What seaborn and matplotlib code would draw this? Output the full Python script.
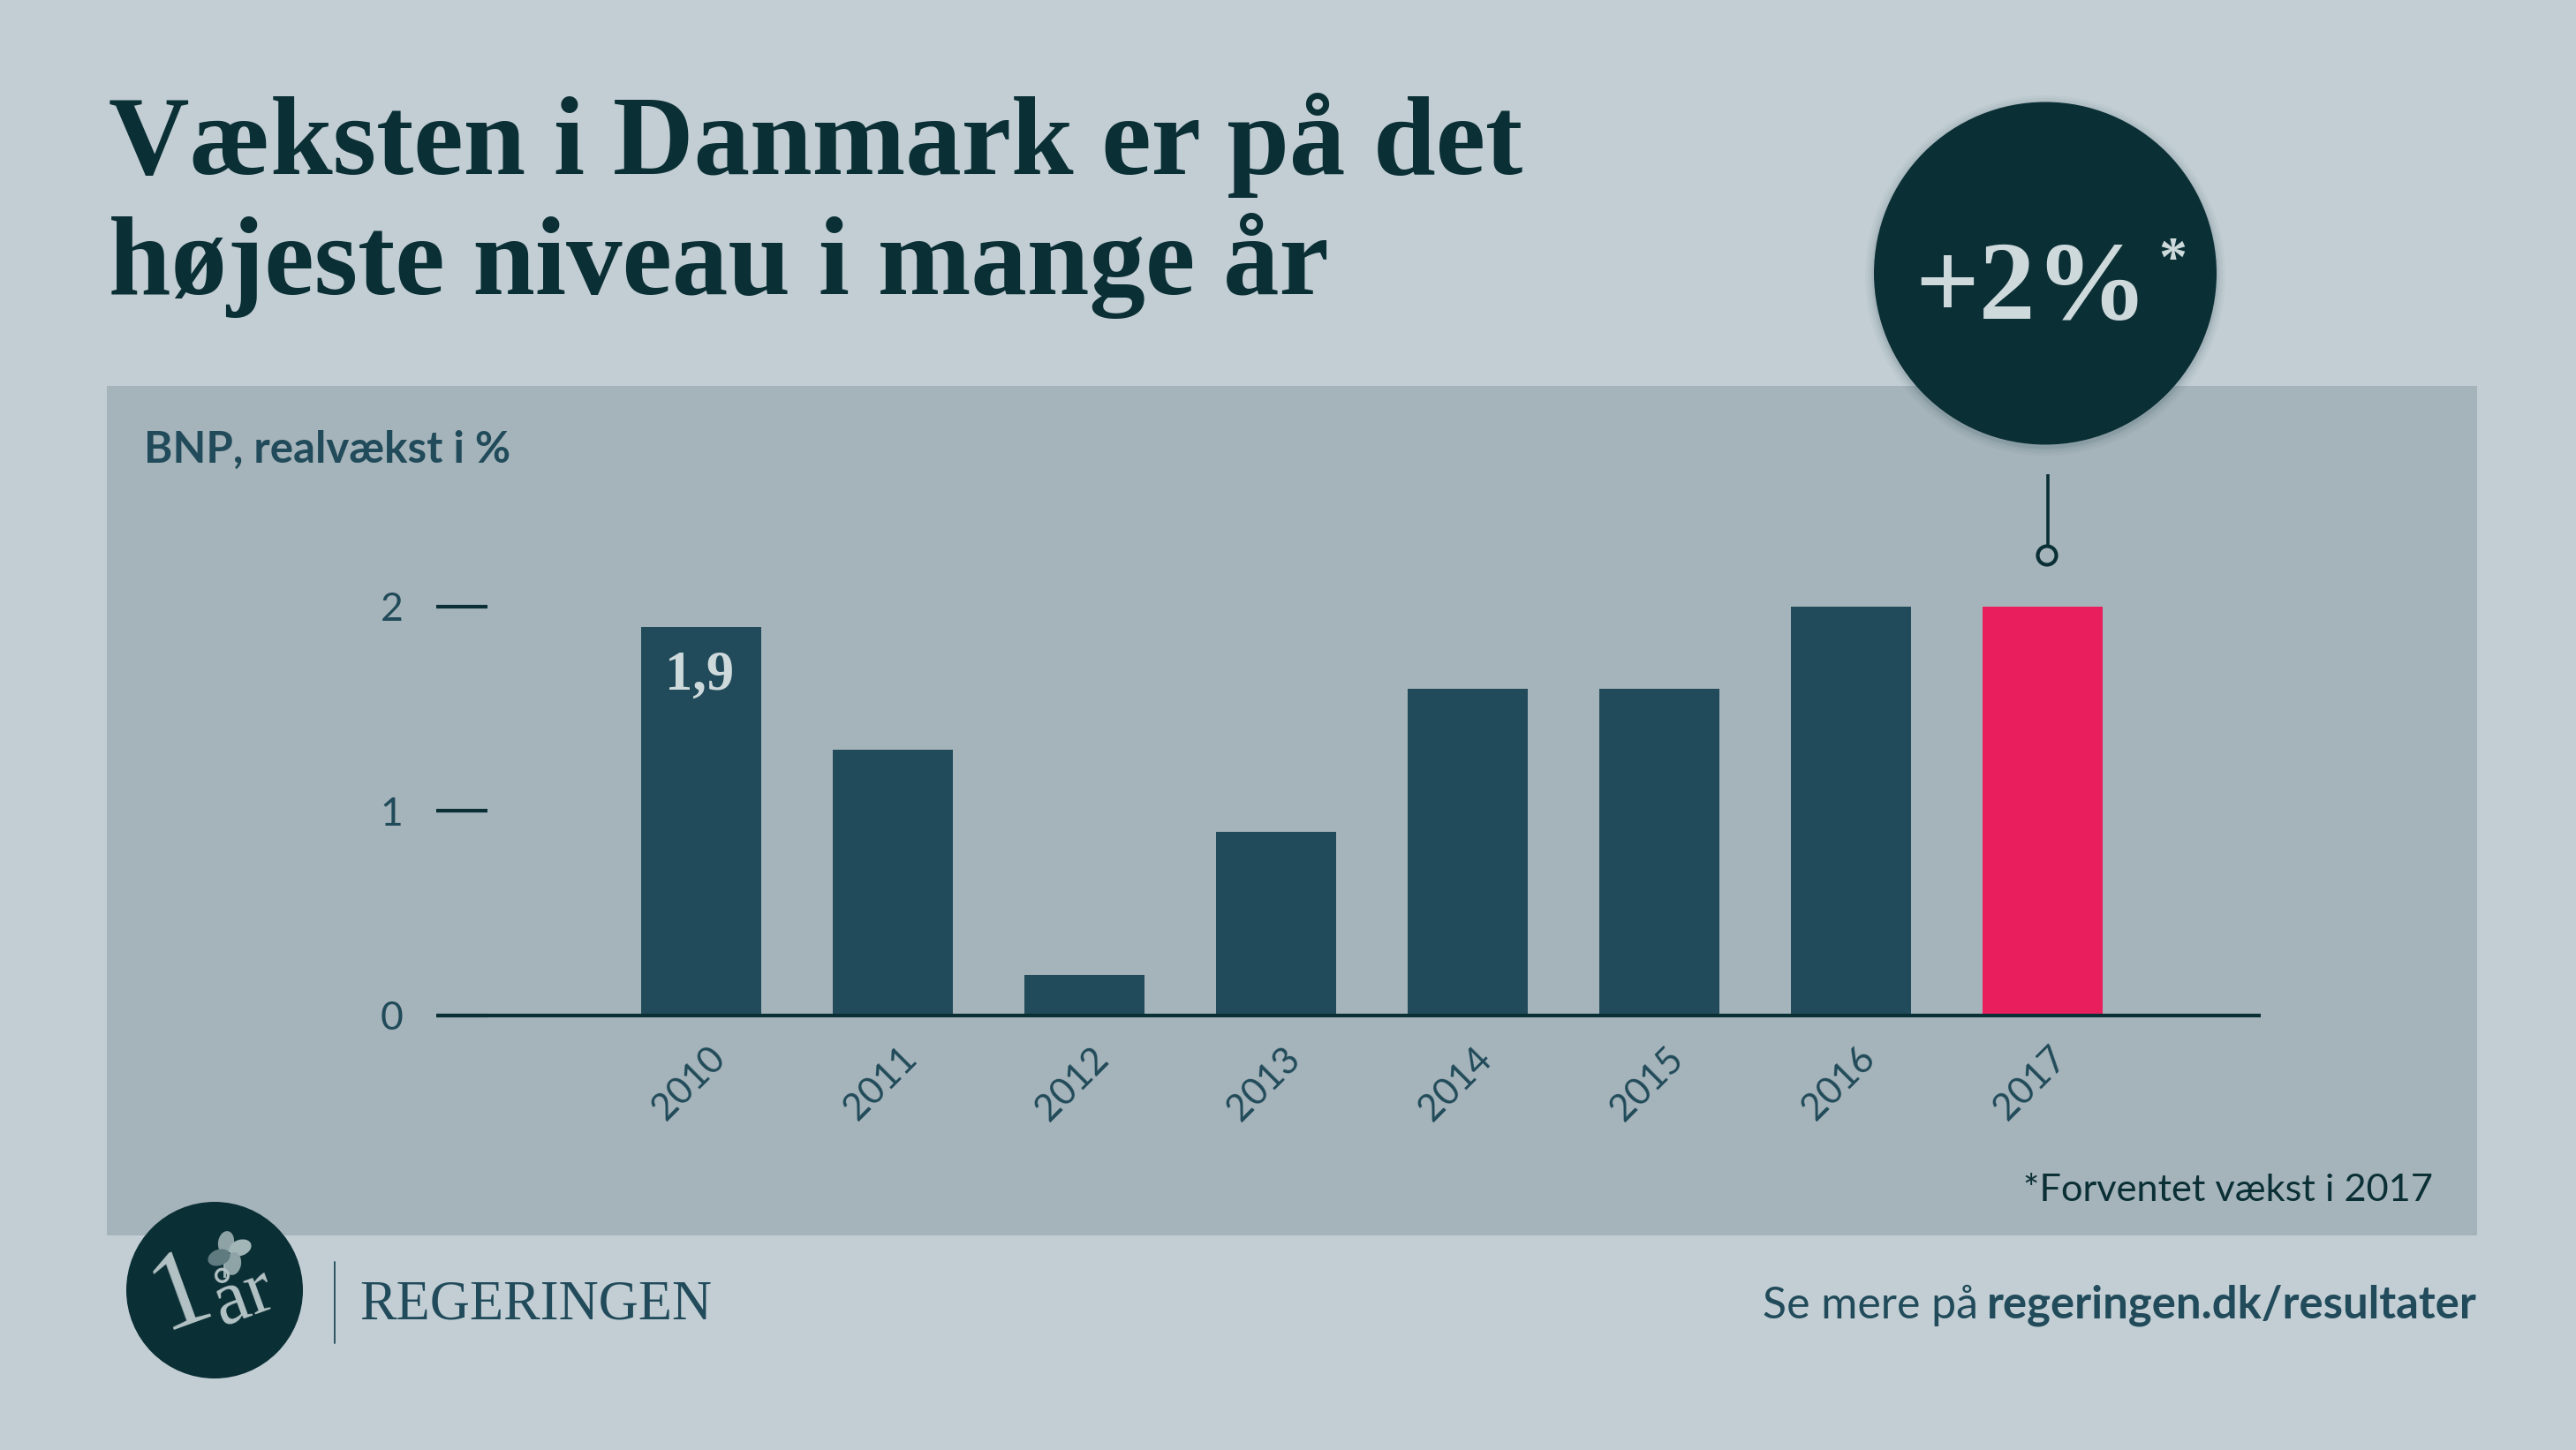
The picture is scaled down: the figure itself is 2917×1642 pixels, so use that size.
import matplotlib
matplotlib.use("Agg")
import matplotlib.pyplot as plt
from matplotlib.patches import Circle, Ellipse, Rectangle
import pandas as pd
import seaborn as sns

# ---- data ----
years = ["2010", "2011", "2012", "2013", "2014", "2015", "2016", "2017"]
growth = [1.9, 1.3, 0.2, 0.9, 1.6, 1.6, 2.0, 2.0]
y_ticks = [0, 1, 2]
labelled_year = "2010"
labelled_text = "1,9"
highlight_year = "2017"

# ---- style ----
BG = "#c2ced4"
PANEL = "#a5b3ba"
DARK = "#0a2f35"
BAR = "#214b5a"
PINK = "#e91f5d"
PALE = "#ced9db"
SERIF = "Liberation Serif"
SANS = "Lato"

sns.set_theme(style="white")
plt.rcParams["font.family"] = [SANS, "DejaVu Sans"]

W, H = 2917, 1642
fig = plt.figure(figsize=(W / 100, H / 100), dpi=100, facecolor=BG)

def layer(z):
    a = fig.add_axes([0, 0, 1, 1], zorder=z)
    a.set_xlim(0, W)
    a.set_ylim(H, 0)
    a.axis("off")
    a.patch.set_alpha(0)
    return a

back = layer(0)
front = layer(2)

# panel
back.add_patch(Rectangle((121, 437), 2684, 962, fc=PANEL, ec="none"))

# title
back.text(123, 197, "Væksten i Danmark er på det", family=SERIF, weight="bold",
          fontsize=91.4, color=DARK, va="baseline")
back.text(123, 333, "højeste niveau i mange år", family=SERIF, weight="bold",
          fontsize=91.4, color=DARK, va="baseline")

back.text(163, 524, "BNP, realvækst i %", family=SANS, weight="bold", fontsize=35.4,
          color=BAR, va="baseline")
back.text(2755, 1360, "*Forventet vækst i 2017", family=SANS, fontsize=31.2,
          color=DARK, ha="right", va="baseline")

# chart
ax = fig.add_axes([494 / W, 1 - 1150 / H, (2560 - 494) / W, (1150 - 640) / H], zorder=1)
ax.patch.set_alpha(0)
df = pd.DataFrame({"year": years, "growth": growth})
palette = {y: (PINK if y == highlight_year else BAR) for y in years}
sns.barplot(data=df, x="year", y="growth", hue="year", palette=palette, legend=False,
            width=0.627, saturation=1, linewidth=0, ax=ax)
ax.set_xlim(-1.382, 8.138)
ax.set_ylim(0, 2.203)
ax.set_xlabel("")
ax.set_ylabel("")
ax.set_yticks(y_ticks)
ax.set_yticklabels([str(v) for v in y_ticks], fontsize=32, color=BAR, family=SANS)
ax.tick_params(axis="y", direction="in", length=41.8, width=3, color=DARK, pad=27, left=True)
ax.tick_params(axis="x", length=0, pad=21)
ax.set_xticks(range(len(years)))
ax.set_xticklabels(years, fontsize=30.5, color=BAR, family=SANS, rotation=45, ha="center")
for lab in ax.get_xticklabels():
    lab.set_transform(lab.get_transform() + matplotlib.transforms.ScaledTranslation(-14 / 100, 0, fig.dpi_scale_trans))
for side in ["top", "right", "left"]:
    ax.spines[side].set_visible(False)
ax.spines["bottom"].set_color(DARK)
ax.spines["bottom"].set_linewidth(3)
ax.spines["bottom"].set_capstyle("butt")

i0 = years.index(labelled_year)
ax.annotate(labelled_text, xy=(i0, growth[i0]), xytext=(-1, -71 * 0.72), textcoords="offset points",
            ha="center", va="baseline", family=SERIF, weight="bold", fontsize=45, color=PALE)

# bubble with soft shadow
for r, al in [(204, 0.03), (201, 0.04), (198, 0.05), (196, 0.07)]:
    front.add_patch(Circle((2316, 312), r, fc="#1c3a40", ec="none", alpha=al))
front.add_patch(Circle((2316, 309.5), 194, fc=DARK, ec="none"))
front.text(2300, 361, "+2%", family=SERIF, weight="bold", fontsize=92, color=PALE,
           ha="center", va="baseline")
front.text(2460, 312, "*", family=SERIF, weight="bold", fontsize=46, color=PALE,
           ha="center", va="baseline")

# connector
front.plot([2319, 2319], [537, 617], color=DARK, lw=2.6, solid_capstyle="butt")
front.add_patch(Circle((2318, 629), 10.5, fc="none", ec=DARK, lw=3))

# logo
front.add_patch(Circle((243, 1461), 100, fc=DARK, ec="none"))
front.text(205, 1466, "1", family=SERIF, fontsize=92, color="#b4c3c5",
           rotation=20, ha="center", va="center")
front.text(276, 1470, "år", family=SERIF, fontsize=62, color="#b4c3c5",
           rotation=20, ha="center", va="center")
front.add_patch(Rectangle((253, 1415), 3, 32, fc="#9fb2b4", ec="none"))
for cx, cy, a, col in [(256, 1407, 10, "#8ea3a6"), (272, 1413, 70, "#a2b5b7"),
                       (264, 1431, 10, "#8fa4a7"), (248, 1424, 70, "#5f7b80")]:
    front.add_patch(Ellipse((cx, cy), 18, 26, angle=a, fc=col, ec="none"))

# wordmark
front.plot([379, 379], [1429, 1521], color=BAR, lw=1.3)
front.text(407, 1493, "REGERINGEN", family=SERIF, fontsize=45, color=BAR, va="baseline")

# footer
front.text(2805, 1493, "regeringen.dk/resultater", family=SANS, weight="bold", fontsize=36.6,
           color=BAR, ha="right", va="baseline")
front.text(2240, 1493, "Se mere på", family=SANS, fontsize=36, color=BAR, ha="right", va="baseline")

fig.savefig("out.png", dpi=100, facecolor=BG)
